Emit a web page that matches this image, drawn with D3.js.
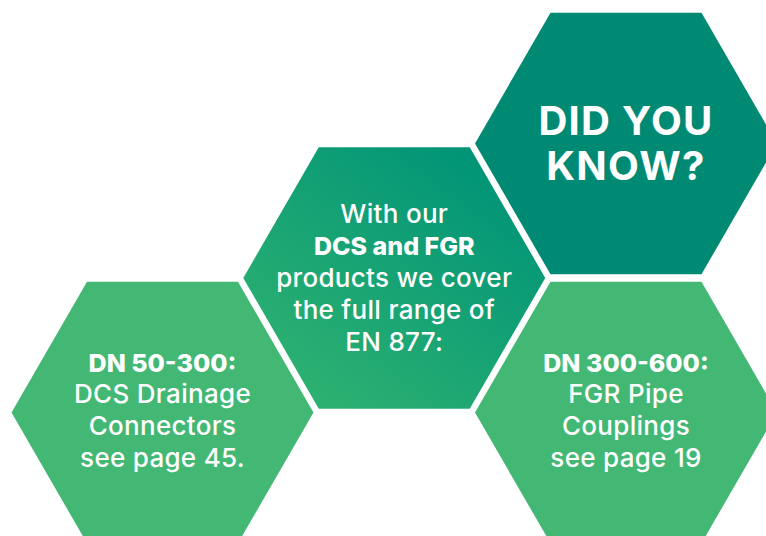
<!DOCTYPE html>
<html>
  <head>
    <meta charset="utf-8">
    <title>Did you know?</title>
    <script src="https://cdn.jsdelivr.net/npm/d3@7"></script>
    <style>
      body { margin: 0; background: #fff; }
      svg { display: block; }
      text { font-family: Inter, "Open Sans", sans-serif; fill: #fff; }
    </style>
  </head>
  <body>
    <div id="chart"></div>
    <script>
      // hexagon contents
      var hexNames = ["know", "range", "dcs", "fgr"];
      var hexLines = [
        ["DID YOU", "KNOW?"],
        ["With our", "DCS and FGR", "products we cover", "the full range of", "EN 877:"],
        ["DN 50-300:", "DCS Drainage", "Connectors", "see page 45."],
        ["DN 300-600:", "FGR Pipe", "Couplings", "see page 19"]
      ];
      // which lines are bold
      var hexBold = [
        [true, true],
        [false, true, false, false, false],
        [true, false, false, false],
        [true, false, false, false]
      ];
      // honeycomb cell of each hexagon (column, half-row)
      var hexCol = [2, 1, 0, 2];
      var hexRow = [0, 1, 2, 2];

      var width = 766, height = 536;
      var R = 151;            // drawn radius
      var lineH = [45, 32, 31.7, 31.7];

      var x = d3.scaleLinear().domain([0, 2]).range([162.5, 626]);
      var y = d3.scaleLinear().domain([0, 2]).range([143.5, 412.5]);

      var svg = d3.select("#chart").append("svg")
        .attr("width", width)
        .attr("height", height);

      var defs = svg.append("defs");
      var grad = defs.append("linearGradient")
        .attr("id", "midGrad")
        .attr("x1", "85%").attr("y1", "10%")
        .attr("x2", "15%").attr("y2", "90%");
      grad.append("stop").attr("offset", "0%").attr("stop-color", "#009477");
      grad.append("stop").attr("offset", "100%").attr("stop-color", "#2DB171");

      var fills = ["#008A74", "url(#midGrad)", "#43B874", "#43B874"];

      var hexPath = d3.line();
      function hexagon(r) {
        return d3.range(6).map(function(i) {
          var a = Math.PI / 3 * i;
          return [r * Math.cos(a), r * Math.sin(a)];
        });
      }

      // font settings: title / bold line / normal line
      function fontFor(i, bold) {
        if (i === 0) return { size: 40, weight: 700, ls: 1.3 };
        if (bold) return { size: 25, weight: 800, ls: 0 };
        return { size: 26, weight: 500, ls: 0.3 };
      }

      var cells = svg.selectAll("g.hex")
        .data(hexNames)
        .enter()
        .append("g")
          .attr("class", "hex")
          .attr("transform", function(d, i) {
            return "translate(" + x(hexCol[i]) + "," + y(hexRow[i]) + ")";
          });

      cells.append("path")
        .attr("d", function() { return hexPath(hexagon(R)) + "Z"; })
        .attr("fill", function(d, i) { return fills[i]; });

      cells.each(function(d, i) {
        var g = d3.select(this);
        // first baseline so that the block sits around the centre
        var y0 = i === 0 ? -8.5 : (i === 1 ? -54.8 : -40.8);
        g.selectAll("text")
          .data(hexLines[i])
          .enter()
          .append("text")
            .attr("text-anchor", "middle")
            .attr("x", 0)
            .attr("y", function(t, j) { return y0 + j * lineH[i]; })
            .each(function(t, j) {
              var f = fontFor(i, hexBold[i][j]);
              d3.select(this)
                .style("font-size", f.size + "px")
                .style("font-weight", f.weight)
                .style("letter-spacing", f.ls + "px");
            })
            .text(function(t) { return t; });
      });
    </script>
  </body>
</html>
